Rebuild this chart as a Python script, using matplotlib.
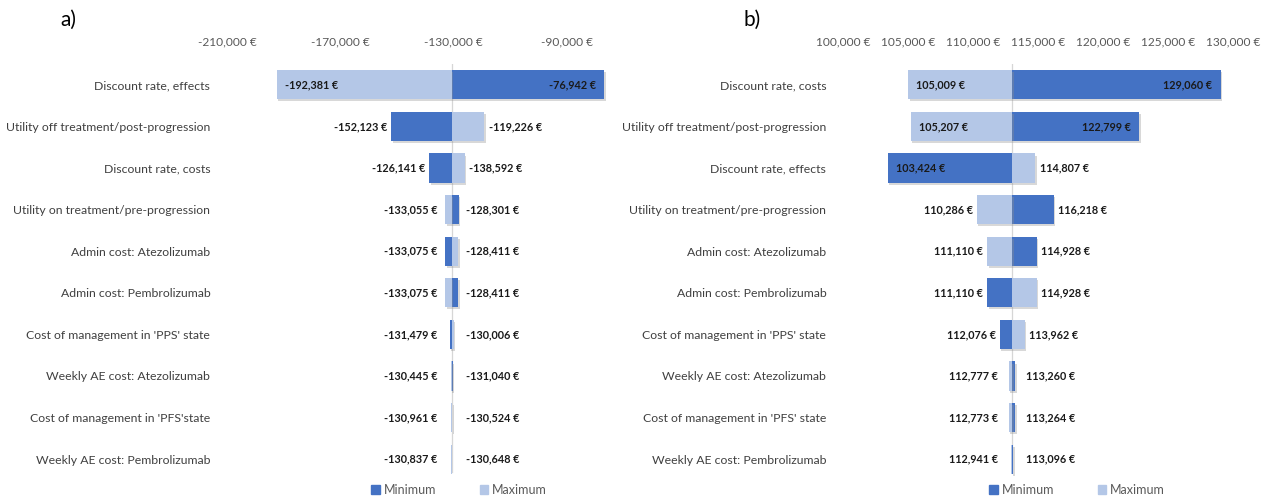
import numpy as np
import matplotlib.pyplot as plt
import matplotlib.patheffects as pe
from matplotlib.patches import Patch

plt.rcParams['font.family'] = ['Lato', 'DejaVu Sans']

# Data
cats_a = ["Discount rate, effects", "Utility off treatment/post-progression", "Discount rate, costs",
          "Utility on treatment/pre-progression", "Admin cost: Atezolizumab", "Admin cost: Pembrolizumab",
          "Cost of management in 'PPS' state", "Weekly AE cost: Atezolizumab",
          "Cost of management in 'PFS'state", "Weekly AE cost: Pembrolizumab"]
base_a = -130742
min_a = [-76942, -152123, -138592, -128301, -133075, -128411, -131479, -130445, -130524, -130648]
max_a = [-192381, -119226, -126141, -133055, -128411, -133075, -130006, -131040, -130961, -130837]
left_lbl_a = ["-192,381 €", "-152,123 €", "-126,141 €", "-133,055 €", "-133,075 €", "-133,075 €",
              "-131,479 €", "-130,445 €", "-130,961 €", "-130,837 €"]
right_lbl_a = ["-76,942 €", "-119,226 €", "-138,592 €", "-128,301 €", "-128,411 €", "-128,411 €",
               "-130,006 €", "-131,040 €", "-130,524 €", "-130,648 €"]
ticks_a = [-210000, -170000, -130000, -90000]

cats_b = ["Discount rate, costs", "Utility off treatment/post-progression", "Discount rate, effects",
          "Utility on treatment/pre-progression", "Admin cost: Atezolizumab", "Admin cost: Pembrolizumab",
          "Cost of management in 'PPS' state", "Weekly AE cost: Atezolizumab",
          "Cost of management in 'PFS' state", "Weekly AE cost: Pembrolizumab"]
base_b = 113018
min_b = [129060, 122799, 103424, 116218, 114928, 111110, 112076, 113260, 113264, 113096]
max_b = [105009, 105207, 114807, 110286, 111110, 114928, 113962, 112777, 112773, 112941]
left_lbl_b = ["105,009 €", "105,207 €", "103,424 €", "110,286 €", "111,110 €", "111,110 €",
              "112,076 €", "112,777 €", "112,773 €", "112,941 €"]
right_lbl_b = ["129,060 €", "122,799 €", "114,807 €", "116,218 €", "114,928 €", "114,928 €",
               "113,962 €", "113,260 €", "113,264 €", "113,096 €"]
ticks_b = [100000, 105000, 110000, 115000, 120000, 125000, 130000]

DARK = '#4472C4'
LIGHT = '#B4C7E7'
W, H = 1271, 500

fig = plt.figure(figsize=(W / 100, H / 100), dpi=100)


def tornado(rect, cats, base, mins, maxs, lleft, lright, ticks, xlim, tag, tag_x, leg_x):
    ax = fig.add_axes(rect)
    y = np.arange(len(cats))
    shadow = [pe.SimplePatchShadow(offset=(1, -1.5), shadow_rgbFace='#909090', alpha=0.35), pe.Normal()]
    for vals, col in [(mins, DARK), (maxs, LIGHT)]:
        v = np.array(vals, dtype=float)
        bars = ax.barh(y, v - base, left=base, height=0.7, color=col, zorder=2)
        for b in bars:
            b.set_path_effects(shadow)
    ax.axvline(base, ymin=0.02, color='#d6d6d6', lw=0.9, zorder=1)
    ax.set_xlim(*xlim)
    ax.set_ylim(len(cats) - 0.5, -0.5)
    ax.set_yticks(y)
    ax.set_yticklabels(cats, fontsize=8.8, color='#404040')
    ax.tick_params(axis='y', length=0, pad=12)
    ax.xaxis.tick_top()
    ax.set_xticks(ticks)
    ax.set_xticklabels([f"{t:,} €" for t in ticks], fontsize=8.6, color='#595959')
    ax.tick_params(axis='x', length=0, pad=12)
    for s in ax.spines.values():
        s.set_visible(False)

    ppu = rect[2] * W / (xlim[1] - xlim[0])
    gap = 10 / ppu
    kw = dict(textcoords='offset points', va='center', fontsize=7.8, fontweight='bold',
              color='#1a1a1a', zorder=3)
    for i in y:
        lo = min(mins[i], maxs[i])
        hi = max(mins[i], maxs[i])
        # left label
        if (base - lo) * ppu > 80:
            ax.annotate(lleft[i], (lo, i), xytext=(6, 0), ha='left', **kw)
        else:
            ax.annotate(lleft[i], (min(lo, base - gap), i), xytext=(-3, 0), ha='right', **kw)
        # right label
        if (hi - base) * ppu > 80:
            ax.annotate(lright[i], (hi, i), xytext=(-6, 0), ha='right', **kw)
        else:
            ax.annotate(lright[i], (max(hi, base + gap), i), xytext=(3, 0), ha='left', **kw)

    fig.text(tag_x / W, 1 - 20 / H, tag, fontsize=15, ha='center', va='center')
    handles = [Patch(color=DARK, label='Minimum'), Patch(color=LIGHT, label='Maximum')]
    fig.legend(handles=handles, loc='center', bbox_to_anchor=(leg_x / W, 1 - 490 / H), ncol=2,
               frameon=False, fontsize=9, labelcolor='#595959', handlelength=0.7, handleheight=0.7,
               handletextpad=0.3, columnspacing=3.5)
    return ax


tornado([227 / W, 1 - 480 / H, 397 / W, 416 / H], cats_a, base_a, min_a, max_a, left_lbl_a, right_lbl_a,
        ticks_a, (-210000, -70000), 'a)', 68, 459)
tornado([843 / W, 1 - 480 / H, 390 / W, 416 / H], cats_b, base_b, min_b, max_b, left_lbl_b, right_lbl_b,
        ticks_b, (100000, 130000), 'b)', 752, 1077)

fig.savefig('out.png', dpi=100)
